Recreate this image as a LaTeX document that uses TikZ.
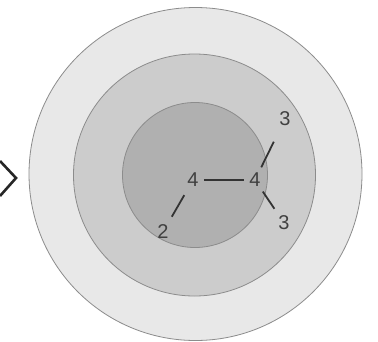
\documentclass[tikz,border=0pt]{standalone}
\usepackage{fontspec}
\setmainfont{Liberation Sans}
\begin{document}
\begin{tikzpicture}[x=1pt,y=-1pt,
  ring/.style={circle,draw=black!45,line width=0.8pt,inner sep=0pt},
  num/.style={text=black!75,font=\fontsize{20}{20}\selectfont,inner sep=2pt},
  link/.style={draw=black!80,line width=1.8pt}]
\useasboundingbox[fill=white] (0,0) rectangle (378,341);
\node[ring,fill=black!9,minimum size=333pt] (outer) at (195.5,174) {};
\node[ring,fill=black!20,minimum size=242pt] (middle) at (194.5,175) {};
\node[ring,fill=black!31,minimum size=145pt] (inner) at (195,175) {};
\node[num] (c) at (193,180) {4};
\node[num] (r) at (255,180) {4};
\node[num] (t) at (285,119) {3};
\node[num] (b) at (284,223) {3};
\node[num] (l) at (163,232) {2};
\draw[link,shorten <=3pt,shorten >=3pt] (c) -- (r);
\draw[link,shorten <=4pt,shorten >=15pt] (r) -- (t);
\draw[link,shorten <=3pt,shorten >=6pt] (r) -- (b);
\draw[link,shorten <=7pt,shorten >=7pt] (c) -- (l);
\draw[line width=2.6pt,black!85,line join=miter] (0,161) -- (16,178) -- (0,196);
\end{tikzpicture}
\end{document}
